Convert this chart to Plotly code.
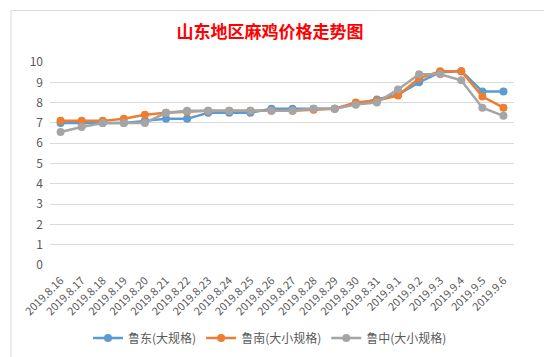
import plotly.graph_objects as go

dates = ["2019.8.16", "2019.8.17", "2019.8.18", "2019.8.19", "2019.8.20", "2019.8.21",
         "2019.8.22", "2019.8.23", "2019.8.24", "2019.8.25", "2019.8.26", "2019.8.27",
         "2019.8.28", "2019.8.29", "2019.8.30", "2019.8.31", "2019.9.1", "2019.9.2",
         "2019.9.3", "2019.9.4", "2019.9.5", "2019.9.6"]

ludong = [7.0, 7.0, 7.0, 7.0, 7.1, 7.2, 7.2, 7.5, 7.5, 7.5, 7.7, 7.7,
          7.7, 7.7, 7.95, 8.15, 8.4, 9.0, 9.5, 9.55, 8.55, 8.55]
lunan = [7.1, 7.1, 7.1, 7.2, 7.4, 7.5, 7.55, 7.6, 7.6, 7.6, 7.6, 7.6,
         7.65, 7.7, 8.0, 8.1, 8.35, 9.2, 9.55, 9.55, 8.3, 7.75]
luzhong = [6.55, 6.8, 7.0, 7.0, 7.0, 7.5, 7.6, 7.6, 7.6, 7.6, 7.6, 7.6,
           7.7, 7.7, 7.9, 8.0, 8.65, 9.4, 9.4, 9.1, 7.75, 7.35]

series_names = ["鲁东(大规格)", "鲁南(大小规格)", "鲁中(大小规格)"]
colors = ["#5B9BD5", "#ED7D31", "#A5A5A5"]

fig = go.Figure()
for name, vals, c in zip(series_names, [ludong, lunan, luzhong], colors):
    fig.add_trace(go.Scatter(
        x=dates, y=vals, name=name, mode="lines+markers",
        line=dict(color=c, width=2.5),
        marker=dict(color=c, size=8, line=dict(width=0)),
        cliponaxis=False,
    ))

font_family = "Noto Sans CJK SC, Liberation Sans, sans-serif"

fig.update_layout(
    width=552, height=357,
    margin=dict(l=42, r=46, t=54, b=98),
    paper_bgcolor="white", plot_bgcolor="white",
    font=dict(family=font_family, color="#595959", size=11),
    title=dict(text="<b>山东地区麻鸡价格走势图</b>", x=262/552, xanchor="center",
               y=1 - 24/357, yanchor="middle",
               font=dict(family=font_family, size=17, color="#FF0000")),
    showlegend=True,
    legend=dict(orientation="h", x=262/464 - 42/464, xanchor="center", y=-0.36, yanchor="middle",
                font=dict(size=12, color="#595959"), itemwidth=30,
                bgcolor="rgba(0,0,0,0)"),
    xaxis=dict(type="category", range=[-0.5, 21.5], tickangle=-45,
               showgrid=False, showline=False, ticks="", ticklabelstandoff=6,
               tickfont=dict(size=11, color="#595959")),
    yaxis=dict(range=[0, 10], dtick=1, showgrid=True, gridcolor="#D9D9D9",
               gridwidth=1, zeroline=False, showline=False, ticks="",
               ticklabelstandoff=6,
               tickfont=dict(size=12, color="#595959")),
    shapes=[dict(type="rect", xref="paper", yref="paper",
                 x0=-39/464, x1=(549-42)/464, y0=-(353-259)/205, y1=(259-2)/205,
                 line=dict(color="#D9D9D9", width=1))],
)

fig.write_html("out.html")
